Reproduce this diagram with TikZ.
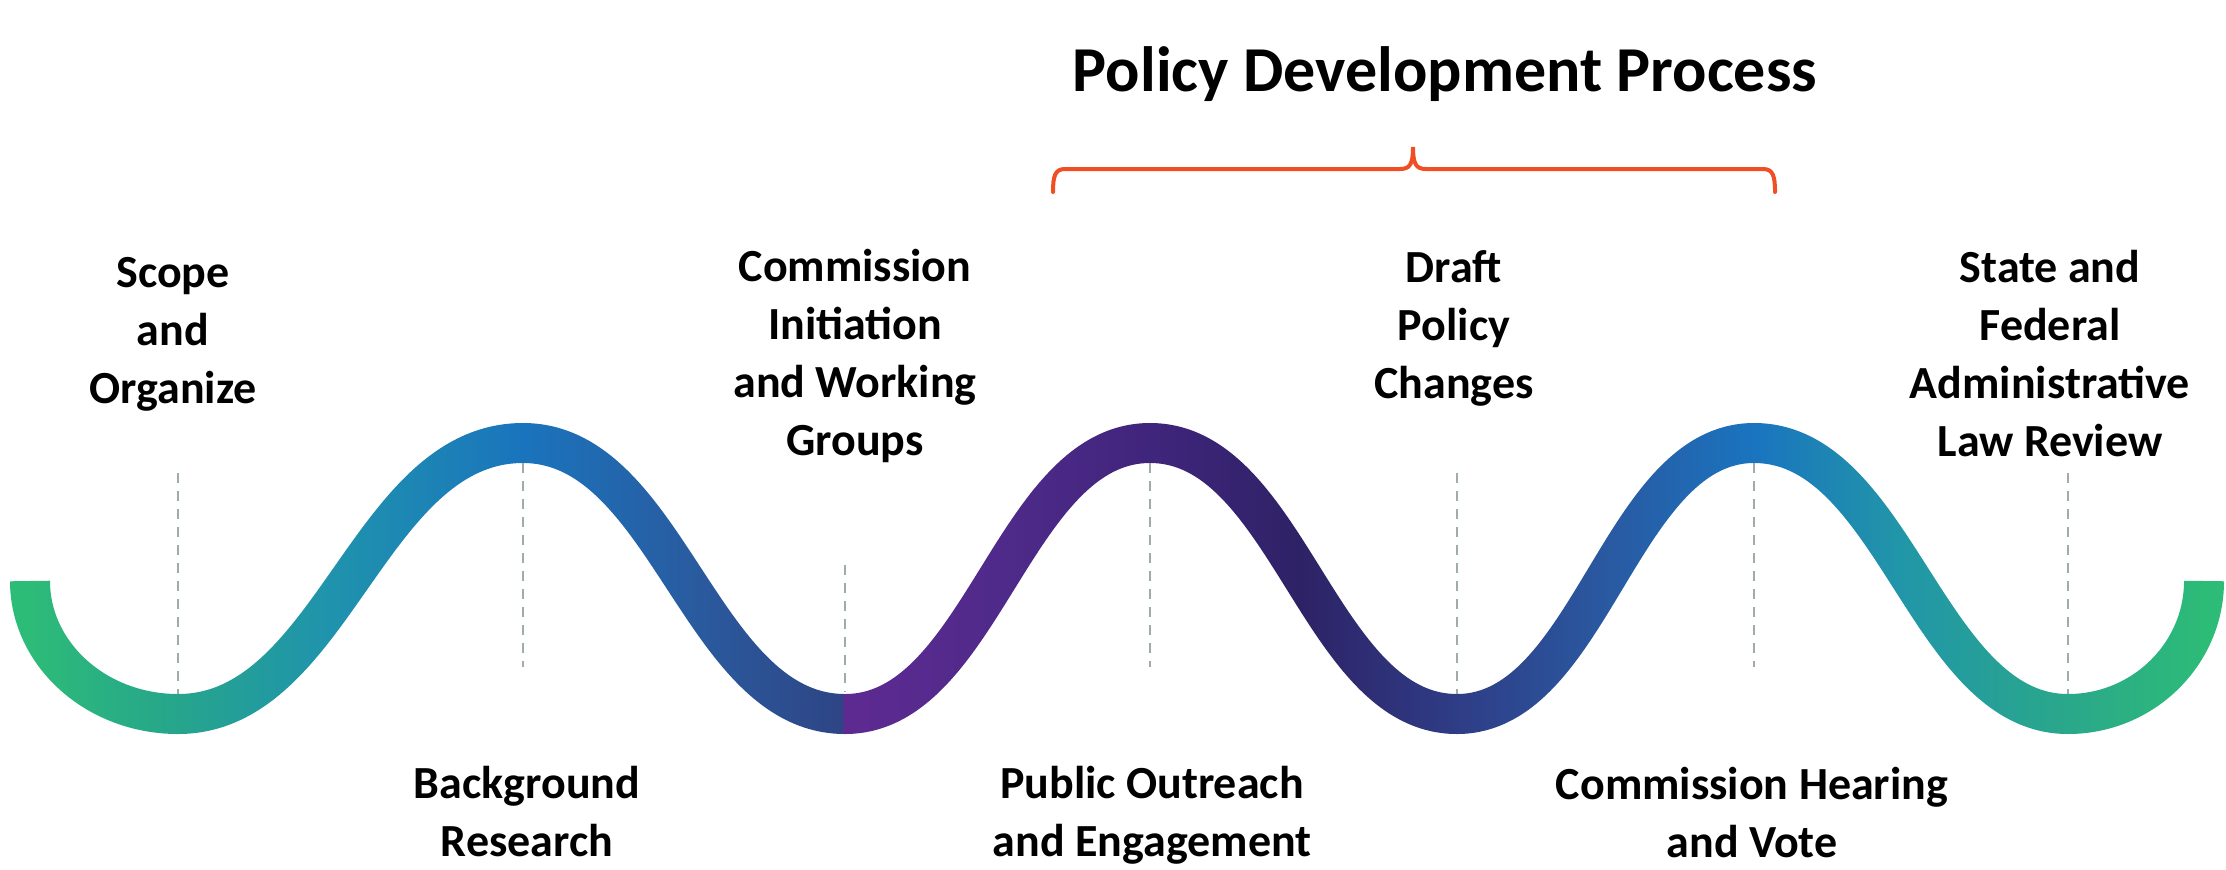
\documentclass[tikz,border=0pt]{standalone}
\usepackage{fontspec}
\setmainfont{Carlito}

\definecolor{wgreen}{RGB}{45,187,120}
\definecolor{wteal}{RGB}{38,165,140}
\definecolor{wcyan}{RGB}{31,147,173}
\definecolor{wblue}{RGB}{26,116,189}
\definecolor{wmidblue}{RGB}{42,90,158}
\definecolor{wdarkblue}{RGB}{46,69,133}
\definecolor{wpurple}{RGB}{94,42,146}
\definecolor{wviolet}{RGB}{79,42,138}
\definecolor{windigo}{RGB}{64,37,124}
\definecolor{wnight}{RGB}{46,34,102}
\definecolor{wnavy}{RGB}{46,61,134}
\definecolor{wsteel}{RGB}{42,88,160}
\definecolor{wsky}{RGB}{26,116,191}
\definecolor{waqua}{RGB}{33,150,168}
\definecolor{wsea}{RGB}{42,168,138}
\definecolor{dashgray}{RGB}{160,172,170}
\definecolor{bracketred}{RGB}{240,78,35}

% x runs 0..2226 px, mapped onto 25bp..75bp of the shading
\pgfdeclarehorizontalshading{waveshade}{100bp}{%
  color(0bp)=(wgreen); color(25.67bp)=(wgreen); color(29.00bp)=(wteal);
  color(32.41bp)=(wcyan); color(36.75bp)=(wblue); color(40.72bp)=(wmidblue);
  color(43.91bp)=(wdarkblue); color(43.95bp)=(wpurple); color(47.46bp)=(wviolet);
  color(50.83bp)=(windigo); color(54.20bp)=(wnight); color(57.73bp)=(wnavy);
  color(60.94bp)=(wsteel); color(64.40bp)=(wsky); color(67.68bp)=(waqua);
  color(71.45bp)=(wsea); color(74.51bp)=(wgreen); color(100bp)=(wgreen)}

\tikzset{
  steplabel/.style={font=\fontsize{23}{29}\selectfont\bfseries, align=center, inner sep=0pt, anchor=north},
  dashline/.style={draw=dashgray, line width=1.2pt, dash pattern=on 5pt off 4pt},
  bracketline/.style={draw=bracketred, line width=2pt, line cap=round}
}

\begin{document}
\begin{tikzpicture}[x=0.5pt,y=0.5pt,yscale=-1,xscale=1]
\useasboundingbox (0,0) rectangle (2226,869);
\fill[white] (0,0) rectangle (2226,869);
%Wave (black, coloured afterwards by the shading)
\draw[line width=20pt, black] (30,581) .. controls (30,654) and (96,714) .. (178,714)
  .. controls (333,714) and (368,443) .. (523,443)
  .. controls (668,443) and (700,714) .. (845,714)
  .. controls (982,714) and (1013,443) .. (1150,443)
  .. controls (1288,443) and (1319,714) .. (1457,714)
  .. controls (1591,714) and (1620,443) .. (1754,443)
  .. controls (1895,443) and (1927,714) .. (2068,714)
  .. controls (2143,714) and (2204,654) .. (2204,581);
%Gradient
\begin{scope}[blend mode=screen]
\shade[shading=waveshade] (0,400) rectangle (2226,760);
\end{scope}
%Dashed Lines
\draw[dashline] (178,473) -- (178,694);
\draw[dashline] (523,463) -- (523,667);
\draw[dashline] (845,565) -- (845,692);
\draw[dashline] (1150,463) -- (1150,667);
\draw[dashline] (1457,473) -- (1457,694);
\draw[dashline] (1754,463) -- (1754,667);
\draw[dashline] (2068,473) -- (2068,694);
%Bracket
\draw[bracketline] (1053,192) .. controls (1053,176) and (1055,169) .. (1065,169) -- (1400,169)
  .. controls (1410,169) and (1413,164) .. (1413,147)
  .. controls (1413,164) and (1416,169) .. (1426,169) -- (1763,169)
  .. controls (1773,169) and (1775,176) .. (1775,192);
% Title
\node (title) at (1445,91) [anchor=base, inner sep=0pt, font=\fontsize{32}{38}\selectfont\bfseries] {Policy Development Process};
% Text Nodes
\node (scope) at (173,257) [steplabel] {Scope\\and\\Organize};
\node (research) at (527,766) [steplabel] {Background\\Research};
\node (initiation) at (855,249) [steplabel] {Commission\\Initiation\\and Working\\Groups};
\node (outreach) at (1152,766) [steplabel] {Public Outreach\\and Engagement};
\node (draft) at (1454,250) [steplabel] {Draft\\Policy\\Changes};
\node (hearing) at (1752,767) [steplabel] {Commission Hearing\\and Vote};
\node (review) at (2050,250) [steplabel] {State and\\Federal\\Administrative\\Law Review};
\end{tikzpicture}
\end{document}
